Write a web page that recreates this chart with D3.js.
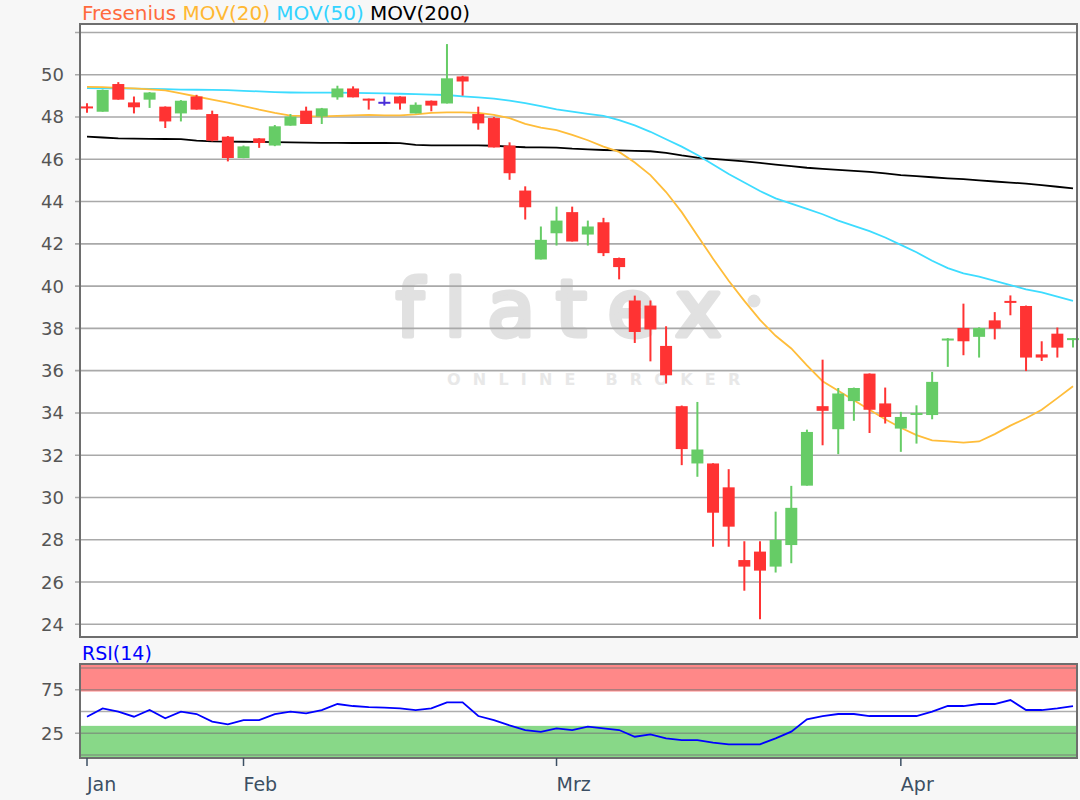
<!DOCTYPE html>
<html>
<head>
<meta charset="utf-8">
<!-- load the d3.js library -->
<script src="https://cdn.jsdelivr.net/npm/d3@7"></script>
<style>
body { margin: 0; background: #f7f7f7; }
text { font-family: "DejaVu Sans", Verdana, sans-serif; }
</style>
</head>
<body>
<div id="chart"></div>
<script>
  // trading days shown (Jan 20 - Apr 20)
  var dates = ["2020-01-20","2020-01-21","2020-01-22","2020-01-23","2020-01-24","2020-01-27","2020-01-28","2020-01-29","2020-01-30","2020-01-31",
    "2020-02-03","2020-02-04","2020-02-05","2020-02-06","2020-02-07","2020-02-10","2020-02-11","2020-02-12","2020-02-13","2020-02-14",
    "2020-02-17","2020-02-18","2020-02-19","2020-02-20","2020-02-21","2020-02-24","2020-02-25","2020-02-26","2020-02-27","2020-02-28",
    "2020-03-02","2020-03-03","2020-03-04","2020-03-05","2020-03-06","2020-03-09","2020-03-10","2020-03-11","2020-03-12","2020-03-13",
    "2020-03-16","2020-03-17","2020-03-18","2020-03-19","2020-03-20","2020-03-23","2020-03-24","2020-03-25","2020-03-26","2020-03-27",
    "2020-03-30","2020-03-31","2020-04-01","2020-04-02","2020-04-03","2020-04-06","2020-04-07","2020-04-08","2020-04-09","2020-04-14",
    "2020-04-15","2020-04-16","2020-04-17","2020-04-20"];
  var monthNames = ["Jan", "Feb", "Mrz", "Apr"];

  var open = [48.5, 48.25, 49.56, 48.69, 48.82, 48.49, 48.17, 48.97, 48.14, 47.07,
    46.06, 46.99, 46.65, 47.59, 48.3, 48.02, 48.93, 49.35, 48.87, 48.72,
    48.97, 48.17, 48.77, 48.64, 49.92, 48.14, 47.95, 46.65, 44.52, 41.26,
    42.5, 43.5, 42.44, 43.02, 41.33, 39.32, 39.08, 37.17, 34.32, 31.61,
    31.61, 30.48, 27.04, 27.44, 26.73, 27.75, 30.56, 34.32, 33.23, 34.56,
    35.86, 34.45, 33.26, 33.95, 33.9, 37.48, 38.02, 37.6, 38.38, 39.3,
    39.06, 36.77, 37.75, 37.5];
  var high = [48.65, 49.3, 49.65, 48.97, 49.18, 48.5, 48.8, 49.05, 48.3, 47.1,
    46.65, 47.0, 47.62, 48.14, 48.49, 48.43, 49.48, 49.45, 48.87, 48.97,
    48.98, 48.69, 48.78, 51.45, 49.95, 48.49, 48.0, 46.8, 44.72, 42.82,
    43.76, 43.76, 43.1, 43.23, 41.35, 39.55, 39.32, 38.1, 34.35, 34.52,
    31.62, 31.34, 27.93, 27.93, 29.33, 30.55, 33.21, 36.52, 35.18, 35.2,
    35.87, 35.2, 34.05, 34.36, 35.94, 37.54, 39.17, 38.05, 38.77, 39.56,
    39.08, 37.39, 38.04, 37.55];
  var low = [48.2, 48.25, 48.82, 48.17, 48.43, 47.48, 47.79, 48.35, 46.85, 45.9,
    46.05, 46.54, 46.62, 47.59, 47.67, 47.67, 48.82, 48.93, 48.35, 48.54,
    48.35, 48.17, 48.27, 48.64, 49.01, 47.4, 46.56, 45.03, 43.15, 41.26,
    41.92, 42.11, 41.92, 41.42, 40.32, 37.31, 36.44, 35.39, 31.53, 30.98,
    27.67, 27.67, 25.59, 24.24, 26.45, 26.89, 30.56, 32.47, 32.05, 33.63,
    33.05, 33.5, 32.16, 32.55, 33.7, 36.18, 36.73, 36.62, 37.48, 38.62,
    35.98, 36.46, 36.62, 37.09];
  var close = [48.45, 49.28, 48.82, 48.46, 49.16, 47.79, 48.77, 48.35, 46.88, 46.06,
    46.61, 46.77, 47.56, 48.02, 47.67, 48.41, 49.35, 48.93, 48.84, 48.72,
    48.64, 48.58, 48.54, 49.83, 49.68, 47.7, 46.56, 45.34, 43.73, 42.19,
    43.1, 42.11, 42.82, 41.56, 40.9, 37.83, 37.95, 35.78, 32.29, 32.27,
    29.28, 28.62, 26.73, 26.54, 27.99, 29.51, 33.1, 34.1, 34.92, 35.18,
    34.15, 33.81, 33.81, 34.0, 35.47, 37.52, 37.39, 38.02, 37.99, 39.26,
    36.62, 36.62, 37.09, 37.54];

  var mov20 = [49.43, 49.41, 49.38, 49.35, 49.31, 49.26, 49.12, 48.97, 48.82, 48.68,
    48.52, 48.35, 48.2, 48.07, 48.04, 48.03, 48.05, 48.08, 48.1, 48.08,
    48.08, 48.12, 48.2, 48.22, 48.22, 48.2, 48.1, 47.95, 47.68, 47.5,
    47.38, 47.15, 46.9, 46.6, 46.35, 45.85, 45.25, 44.45, 43.5, 42.4,
    41.3, 40.25, 39.3, 38.4, 37.65, 37.05, 36.25, 35.5, 35.05, 34.6,
    34.15, 33.7, 33.3, 32.95, 32.7, 32.65, 32.6, 32.65, 33.0, 33.4,
    33.75, 34.15, 34.7, 35.26];
  var mov50 = [49.37, 49.36, 49.35, 49.34, 49.33, 49.32, 49.3, 49.29, 49.28, 49.27,
    49.24, 49.21, 49.18, 49.16, 49.15, 49.15, 49.15, 49.14, 49.13, 49.12,
    49.1, 49.08, 49.06, 49.04, 48.98, 48.93, 48.87, 48.78, 48.66, 48.52,
    48.36, 48.25, 48.15, 48.05, 47.85, 47.6, 47.3, 46.95, 46.6, 46.2,
    45.75, 45.3, 44.9, 44.5, 44.15, 43.9, 43.65, 43.4, 43.1, 42.85,
    42.6, 42.3, 41.95, 41.6, 41.2, 40.85, 40.6, 40.45, 40.25, 40.05,
    39.85, 39.7, 39.5, 39.3];
  var mov200 = [47.07, 47.03, 46.99, 46.98, 46.97, 46.96, 46.95, 46.88, 46.85, 46.84,
    46.83, 46.82, 46.81, 46.8, 46.79, 46.78, 46.78, 46.77, 46.77, 46.77,
    46.76, 46.68, 46.66, 46.66, 46.66, 46.66, 46.64, 46.6, 46.57, 46.56,
    46.55, 46.5, 46.47, 46.44, 46.42, 46.4, 46.38, 46.3, 46.18, 46.08,
    46.02, 45.96, 45.9, 45.83, 45.75, 45.68, 45.6, 45.55, 45.5, 45.45,
    45.4, 45.33, 45.25, 45.2, 45.15, 45.1, 45.06, 45.0, 44.95, 44.9,
    44.85, 44.78, 44.7, 44.62];
  var rsi = [44, 53.6, 49.8, 44, 51.7, 42.2, 49.8, 47.1, 38.3, 35.3,
    40, 40.2, 47, 49.8, 47.9, 51.7, 58.6, 56.3, 55, 54.5,
    53.6, 51.7, 53.6, 60.5, 60.5, 44.8, 40.2, 34, 28.7, 26.5,
    30.7, 28.7, 32.6, 30.7, 28.7, 21, 23.8, 19.2, 17.2, 17.2,
    14.2, 12.3, 12.3, 12.3, 19.2, 26.8, 41, 44.8, 47.1, 47.1,
    44.8, 44.8, 44.8, 44.8, 49.8, 56.3, 56.3, 58.6, 58.6, 63.2,
    51.7, 51.7, 53.6, 56.3];

  var priceGrid = d3.range(24, 53, 2);
  var priceLabels = d3.range(24, 51, 2);
  var rsiGrid = [0, 25, 50, 75, 100];
  var rsiLabels = [25, 75];
  var rsiHigh = 73, rsiLow = 33.5;

  var width = 1080, height = 800;
  var left = 80, right = 1077;
  var top1 = 24, bottom1 = 637;
  var top2 = 664, bottom2 = 758;

  var svg = d3.select("#chart")
              .append("svg")
              .attr("width", width)
              .attr("height", height);

  var x = d3.scalePoint().domain(d3.range(dates.length)).range([87, 1073]);
  var y = d3.scaleLinear().domain([23.4, 52.4]).range([bottom1, top1]);
  var yr = d3.scaleLinear().domain([0, 100]).range([755, 668]);

  // main panel background
  svg.append("rect")
     .attr("x", left).attr("y", top1)
     .attr("width", right - left).attr("height", bottom1 - top1)
     .attr("fill", "#fff");

  // watermark
  svg.append("text")
     .attr("x", 396).attr("y", 336)
     .style("font-size", "78px")
     .style("letter-spacing", "21px")
     .attr("fill", "#e1e1e1")
     .style("stroke", "#e1e1e1")
     .style("stroke-width", 5)
     .style("stroke-linejoin", "round")
     .text("flatex");
  svg.append("circle")
     .attr("cx", 754).attr("cy", 301).attr("r", 6.5)
     .attr("fill", "#e1e1e1");
  svg.append("text")
     .attr("x", 447).attr("y", 385)
     .style("font-size", "16px")
     .style("font-weight", "bold")
     .style("letter-spacing", "12.2px")
     .attr("fill", "#e8e8e8")
     .text("ONLINE BROKER");

  // price grid + ticks
  svg.selectAll("line.pgrid")
     .data(priceGrid)
     .enter().append("line")
     .attr("class", "pgrid")
     .attr("x1", left - 5).attr("x2", right)
     .attr("y1", function(d) { return y(d); })
     .attr("y2", function(d) { return y(d); })
     .style("stroke", "#a9a9a9")
     .style("stroke-width", 1.6);
  svg.selectAll("text.plabel")
     .data(priceLabels)
     .enter().append("text")
     .attr("class", "plabel")
     .attr("x", 64)
     .attr("y", function(d) { return y(d); })
     .attr("dy", "0.36em")
     .attr("text-anchor", "end")
     .attr("fill", "#555")
     .style("font-size", "18px")
     .text(function(d) { return d; });

  // moving averages
  var maLine = function(vals) {
    return d3.line()
             .x(function(d, i) { return x(i); })
             .y(function(d) { return y(d); })(vals);
  };
  svg.append("path").attr("d", maLine(mov200))
     .attr("fill", "none").style("stroke", "#000").style("stroke-width", 1.8);
  svg.append("path").attr("d", maLine(mov50))
     .attr("fill", "none").style("stroke", "#3ddcff").style("stroke-width", 1.8);
  svg.append("path").attr("d", maLine(mov20))
     .attr("fill", "none").style("stroke", "#ffbd3a").style("stroke-width", 1.8);

  // candles
  var candleColor = function(i) {
    if (close[i] > open[i]) return "#66cc66";
    if (close[i] < open[i]) return "#ff3333";
    return "#4a2fd8";
  };
  var bodyW = 12;
  var candles = svg.selectAll("g.candle")
                   .data(d3.range(dates.length))
                   .enter().append("g")
                   .attr("class", "candle");
  candles.append("line")
         .attr("x1", function(i) { return x(i); })
         .attr("x2", function(i) { return x(i); })
         .attr("y1", function(i) { return y(high[i]); })
         .attr("y2", function(i) { return y(low[i]); })
         .style("stroke", candleColor)
         .style("stroke-width", 2);
  candles.append("rect")
         .attr("x", function(i) { return x(i) - bodyW / 2; })
         .attr("y", function(i) { return y(Math.max(open[i], close[i])); })
         .attr("width", bodyW)
         .attr("height", function(i) { return Math.max(2, Math.abs(y(open[i]) - y(close[i]))); })
         .attr("fill", candleColor);

  // main frame
  svg.append("rect")
     .attr("x", left).attr("y", top1)
     .attr("width", right - left).attr("height", bottom1 - top1)
     .attr("fill", "none")
     .style("stroke", "#6e6e6e")
     .style("stroke-width", 2);

  // legend
  var legend = svg.append("text").attr("x", 82).attr("y", 20).style("font-size", "20px");
  legend.append("tspan").attr("fill", "#ff6a3d").text("Fresenius ");
  legend.append("tspan").attr("fill", "#ffb833").text("MOV(20) ");
  legend.append("tspan").attr("fill", "#33d3ff").text("MOV(50) ");
  legend.append("tspan").attr("fill", "#000").text("MOV(200)");

  // RSI panel
  svg.append("text").attr("x", 82).attr("y", 660)
     .style("font-size", "19px").attr("fill", "#0000ff").text("RSI(14)");
  svg.append("rect")
     .attr("x", left).attr("y", top2)
     .attr("width", right - left).attr("height", bottom2 - top2)
     .attr("fill", "#fff");
  svg.append("rect")
     .attr("x", left).attr("y", top2)
     .attr("width", right - left).attr("height", yr(rsiHigh) - top2)
     .attr("fill", "#ff8888");
  svg.append("rect")
     .attr("x", left).attr("y", yr(rsiLow))
     .attr("width", right - left).attr("height", bottom2 - yr(rsiLow))
     .attr("fill", "#88d888");
  svg.selectAll("line.rgrid")
     .data(rsiGrid)
     .enter().append("line")
     .attr("class", "rgrid")
     .attr("x1", function(d) { return rsiLabels.indexOf(d) >= 0 ? left - 5 : left; })
     .attr("x2", right)
     .attr("y1", function(d) { return yr(d); })
     .attr("y2", function(d) { return yr(d); })
     .style("stroke", "#777")
     .style("stroke-opacity", 0.6)
     .style("stroke-width", 1.6);
  svg.selectAll("text.rlabel")
     .data(rsiLabels)
     .enter().append("text")
     .attr("class", "rlabel")
     .attr("x", 64)
     .attr("y", function(d) { return yr(d); })
     .attr("dy", "0.36em")
     .attr("text-anchor", "end")
     .attr("fill", "#555")
     .style("font-size", "18px")
     .text(function(d) { return d; });
  svg.append("path")
     .attr("d", d3.line()
                  .x(function(d, i) { return x(i); })
                  .y(function(d) { return yr(d); })(rsi))
     .attr("fill", "none")
     .style("stroke", "#0000ff")
     .style("stroke-width", 1.8);
  svg.append("rect")
     .attr("x", left).attr("y", top2)
     .attr("width", right - left).attr("height", bottom2 - top2)
     .attr("fill", "none")
     .style("stroke", "#6e6e6e")
     .style("stroke-width", 2);

  // month axis
  var monthStarts = [];
  dates.forEach(function(d, i) {
    if (i === 0 || d.slice(5, 7) !== dates[i - 1].slice(5, 7)) monthStarts.push(i);
  });
  var ticks = svg.selectAll("g.mtick")
                 .data(monthStarts)
                 .enter().append("g")
                 .attr("class", "mtick");
  ticks.append("line")
       .attr("x1", function(i) { return x(i); })
       .attr("x2", function(i) { return x(i); })
       .attr("y1", bottom2).attr("y2", bottom2 + 8)
       .style("stroke", "#3c4f63")
       .style("stroke-width", 1.5);
  ticks.append("text")
       .attr("x", function(i) { return x(i); })
       .attr("y", 791)
       .attr("fill", "#3c4f63")
       .style("font-size", "19px")
       .text(function(i, k) { return monthNames[k]; });
</script>
</body>
</html>
